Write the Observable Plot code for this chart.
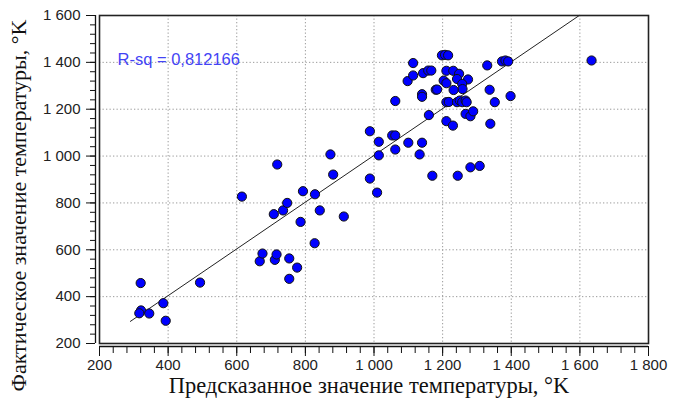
<!DOCTYPE html>
<html>
<head>
<meta charset="utf-8">
<script src="https://cdn.jsdelivr.net/npm/d3@7"></script>
<script src="https://cdn.jsdelivr.net/npm/@observablehq/plot@0.6"></script>
<style>
  html, body { margin: 0; padding: 0; background: #fff; }
  #chart { width: 675px; height: 408px; }
</style>
</head>
<body>
<div id="chart"></div>
<script>
// Predicted vs. actual temperature, K
const predicted = [
  320, 321, 316, 345, 386, 393, 493, 615, 667, 675,
  711, 716, 753, 753, 776, 708, 735, 747, 786, 793,
  828, 827, 842, 912, 718, 873, 881, 1009, 988, 988,
  1014, 1014, 1053, 1062, 1062, 1100, 1140, 1133, 1170, 1244,
  1281, 1308, 1211, 1230, 1339, 1062, 1098, 1114, 1114, 1143,
  1158, 1167, 1140, 1140, 1160, 1180, 1184, 1198, 1207, 1216,
  1211, 1231, 1248, 1203, 1211, 1242, 1274, 1257, 1258, 1232,
  1211, 1218, 1242, 1250, 1257, 1267, 1270, 1267, 1281, 1289,
  1330, 1337, 1352, 1398, 1373, 1383, 1391, 1634
];
const actual = [
  458, 341, 329, 328, 372, 297, 460, 827, 551, 584,
  557, 580, 563, 476, 524, 752, 768, 800, 719, 850,
  837, 628, 768, 742, 964, 1007, 921, 844, 904, 1106,
  1061, 1003, 1088, 1088, 1028, 1057, 1057, 1007, 916, 916,
  952, 958, 1149, 1130, 1138, 1235, 1320, 1344, 1397, 1354,
  1365, 1365, 1264, 1253, 1175, 1283, 1284, 1430, 1432, 1430,
  1364, 1364, 1351, 1322, 1311, 1329, 1327, 1308, 1286, 1282,
  1230, 1231, 1230, 1237, 1230, 1237, 1230, 1180, 1170, 1191,
  1387, 1283, 1230, 1256, 1404, 1408, 1404, 1408
];

// Least-squares fit of actual on predicted
const fitSlope = 0.998;
const fitIntercept = 5;
const fitRange = [290, 1598];
const rsqLabel = "R-sq = 0,812166";

// Axis ticks
const xTicks = [200, 400, 600, 800, 1000, 1200, 1400, 1600, 1800];
const yTicks = [200, 400, 600, 800, 1000, 1200, 1400, 1600];
const xMinor = d3.range(200, 1801, 40);
const yMinor = d3.range(200, 1601, 40);

const xTitle = "Предсказанное значение температуры, °K";
const yTitle = "Фактическое значение температуры, °K";

const points = predicted.map((p, i) => ({predicted: p, actual: actual[i]}));
const fitLine = fitRange.map(x => ({x, y: fitIntercept + fitSlope * x}));
const fmt = d => d3.format(",")(d).replace(/,/g, " ");

const tickFont = {fontSize: 15, fill: "#222"};
const serif = "'Liberation Serif', 'Times New Roman', serif";

const chart = Plot.plot({
  width: 675,
  height: 408,
  marginLeft: 99,
  marginRight: 27,
  marginTop: 15,
  marginBottom: 65,
  style: {fontFamily: "'Liberation Sans', Arial, sans-serif", background: "#fff", overflow: "visible"},
  x: {domain: [200, 1800], axis: null},
  y: {domain: [200, 1600], axis: null},
  marks: [
    // dotted grid
    Plot.gridX(xTicks.slice(1, -1), {stroke: "#9a9a9a", strokeOpacity: 1, strokeDasharray: "1.3,2.2"}),
    Plot.gridY(yTicks.slice(1, -1), {stroke: "#9a9a9a", strokeOpacity: 1, strokeDasharray: "1.3,2.2"}),
    // x axis, set slightly below the frame
    Plot.ruleY([200], {dy: 3, stroke: "#111", strokeWidth: 1.3}),
    Plot.axisX(xMinor, {tickSize: 7, dy: 3, text: null, stroke: "#111"}),
    Plot.axisX(xTicks, {tickSize: 10, dy: 3, tickPadding: 3, tickFormat: fmt, stroke: "#111", ...tickFont}),
    // y axis, set slightly left of the frame
    Plot.ruleX([200], {dx: -4, stroke: "#111", strokeWidth: 1.3}),
    Plot.axisY(yMinor, {tickSize: 5, dx: -4, text: null, stroke: "#111"}),
    Plot.axisY(yTicks, {tickSize: 9, dx: -4, tickPadding: 6, tickFormat: fmt, stroke: "#111", ...tickFont}),
    // regression line
    Plot.line(fitLine, {x: "x", y: "y", stroke: "#222", strokeWidth: 1}),
    // observations
    Plot.dot(points, {x: "predicted", y: "actual", r: 4.6, fill: "#0000ff", stroke: "#111", strokeWidth: 1}),
    Plot.frame({stroke: "#222", strokeWidth: 1.6}),
    // annotation and axis titles
    Plot.text([rsqLabel], {frameAnchor: "top-left", dx: 18, dy: 44, textAnchor: "start", lineAnchor: "middle", fill: "#4343f5", fontSize: 16.5}),
    Plot.text([xTitle], {frameAnchor: "bottom", dx: -5, dy: 42, textAnchor: "middle", lineAnchor: "middle", fill: "#111", fontSize: 22.5, fontFamily: serif, letterSpacing: 2}),
    Plot.text([yTitle], {frameAnchor: "left", rotate: -90, dx: -81, dy: 26, textAnchor: "middle", lineAnchor: "middle", fill: "#111", fontSize: 22, fontFamily: serif, letterSpacing: 1.2})
  ]
});

document.getElementById("chart").appendChild(chart);
</script>
</body>
</html>
